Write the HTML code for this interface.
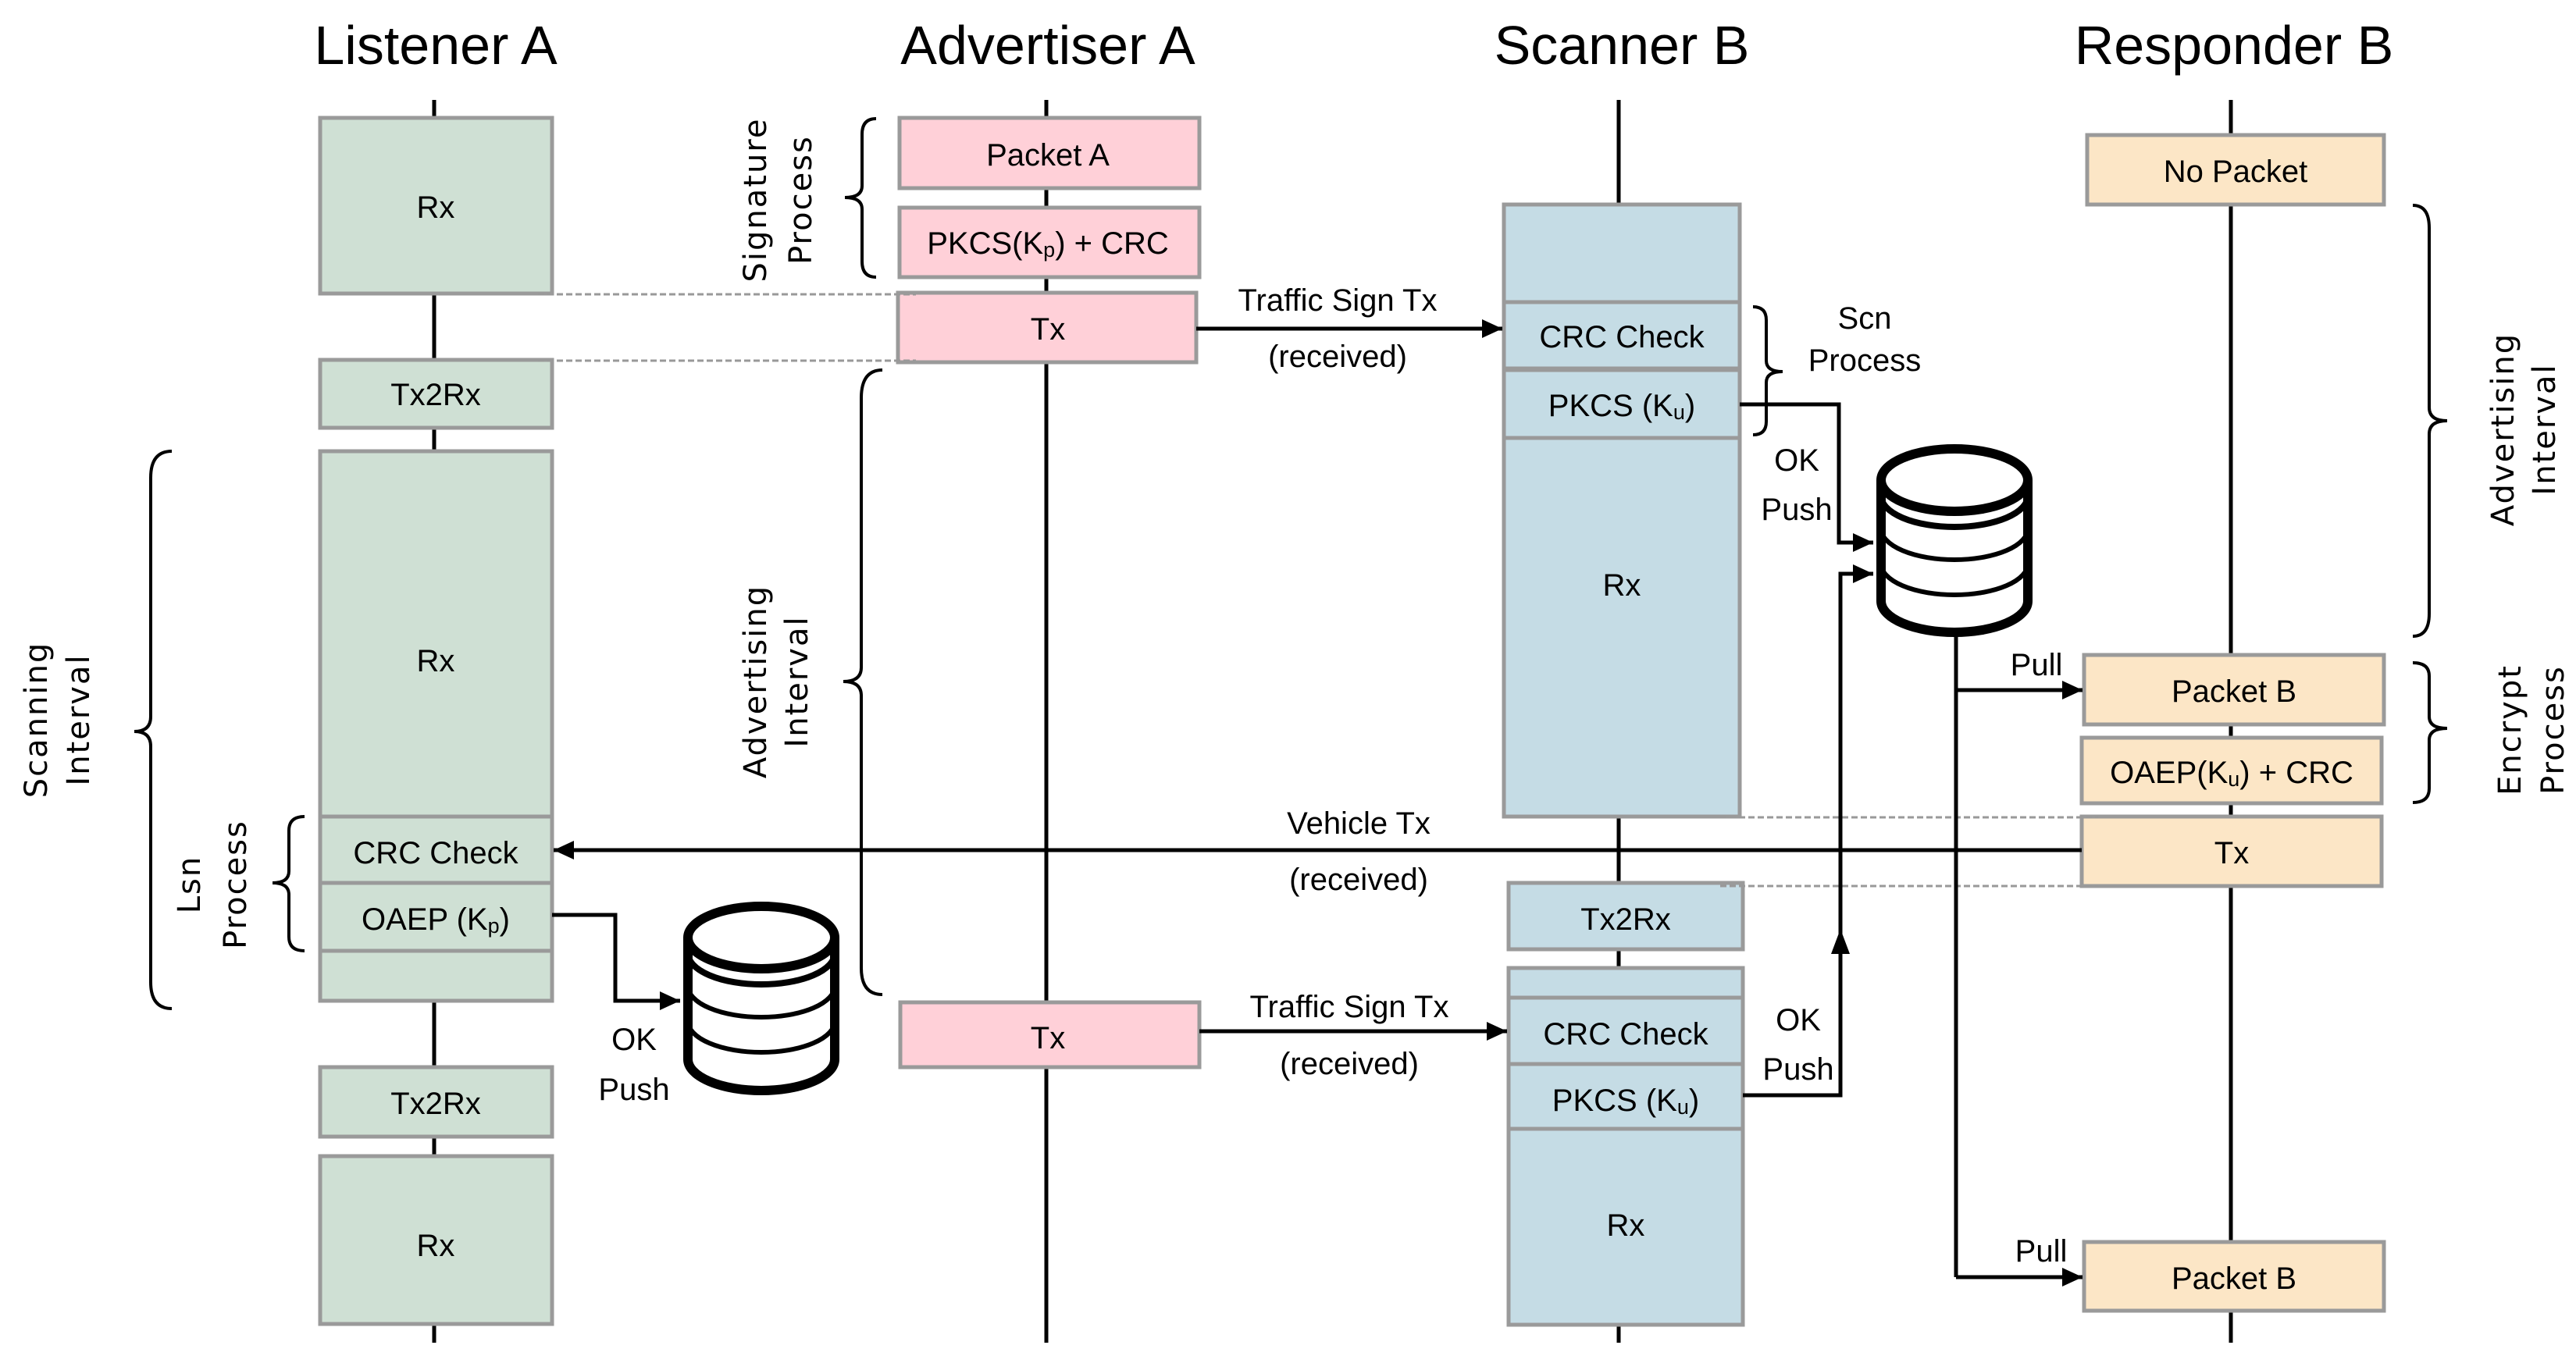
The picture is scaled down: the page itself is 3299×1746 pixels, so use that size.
<!DOCTYPE html>
<html><head><meta charset="utf-8"><style>
html,body{margin:0;padding:0;background:#fff;}
svg{display:block;}
.t{font-family:"Liberation Sans",sans-serif;font-size:40px;fill:#000;text-anchor:middle;dominant-baseline:central;}
.h{font-family:"Liberation Sans",sans-serif;font-size:70px;fill:#000;text-anchor:middle;}
.r{font-family:"DejaVu Sans",sans-serif;font-size:40px;fill:#000;text-anchor:middle;dominant-baseline:central;letter-spacing:2px;}
.g{fill:#cfe0d4;stroke:#9a9a9a;stroke-width:5;}
.p{fill:#ffd0d8;stroke:#9a9a9a;stroke-width:5;}
.b{fill:#c5dce5;stroke:#9a9a9a;stroke-width:5;}
.o{fill:#fce6c6;stroke:#9a9a9a;stroke-width:5;}
.ln{stroke:#000;stroke-width:5;fill:none;}
.br{stroke:#000;stroke-width:4;fill:none;}
.d{stroke:#999;stroke-width:3;stroke-dasharray:8,4;}
.db{stroke:#000;stroke-width:12;fill:#fff;}
</style></head><body>
<svg width="3299" height="1746" viewBox="0 0 3299 1746" xmlns="http://www.w3.org/2000/svg">
<defs>
<marker id="a" markerUnits="userSpaceOnUse" markerWidth="28" markerHeight="28" refX="26" refY="14" orient="auto"><path d="M0,2 L26,14 L0,26 z" fill="#000"/></marker>
</defs>
<text class="h" x="558" y="82">Listener A</text>
<text class="h" x="1342" y="82">Advertiser A</text>
<text class="h" x="2077" y="82">Scanner B</text>
<text class="h" x="2861" y="82">Responder B</text>
<line class="ln" x1="556" y1="128" x2="556" y2="1720"/>
<line class="ln" x1="1340" y1="128" x2="1340" y2="1720"/>
<line class="ln" x1="2073" y1="128" x2="2073" y2="1720"/>
<line class="ln" x1="2857" y1="128" x2="2857" y2="1720"/>

<rect class="g" x="410" y="151" width="297" height="225"/><text class="t" x="558" y="266">Rx</text>
<rect class="g" x="410" y="461" width="297" height="87"/><text class="t" x="558" y="506">Tx2Rx</text>
<rect class="g" x="410" y="578" width="297" height="468"/><text class="t" x="558" y="847">Rx</text>
<rect class="g" x="410" y="1046" width="297" height="85"/><text class="t" x="558" y="1093">CRC Check</text>
<rect class="g" x="410" y="1131" width="297" height="87"/><text class="t" x="558" y="1178">OAEP (K<tspan font-size="27" dy="8">p</tspan><tspan dy="-8">)</tspan></text>
<rect class="g" x="410" y="1218" width="297" height="64"/>
<rect class="g" x="410" y="1367" width="297" height="89"/><text class="t" x="558" y="1414">Tx2Rx</text>
<rect class="g" x="410" y="1481" width="297" height="215"/><text class="t" x="558" y="1596">Rx</text>

<rect class="p" x="1152" y="151" width="384" height="90"/><text class="t" x="1342" y="199">Packet A</text>
<rect class="p" x="1152" y="266" width="384" height="89"/><text class="t" x="1342" y="312">PKCS(K<tspan font-size="27" dy="8">p</tspan><tspan dy="-8">) + CRC</tspan></text>
<rect class="p" x="1150" y="375" width="382" height="89"/><text class="t" x="1342" y="422">Tx</text>
<rect class="p" x="1153" y="1284" width="383" height="83"/><text class="t" x="1342" y="1330">Tx</text>
<line class="d" x1="689" y1="377" x2="1173" y2="377"/>
<line class="d" x1="689" y1="462" x2="1173" y2="462"/>

<rect class="b" x="1926" y="262" width="302" height="125"/>
<rect class="b" x="1926" y="387" width="302" height="85"/><text class="t" x="2077" y="432">CRC Check</text>
<rect class="b" x="1926" y="474" width="302" height="87"/><text class="t" x="2077" y="520">PKCS (K<tspan font-size="27" dy="8">u</tspan><tspan dy="-8">)</tspan></text>
<rect class="b" x="1926" y="561" width="302" height="485"/><text class="t" x="2077" y="750">Rx</text>
<rect class="b" x="1932" y="1131" width="300" height="85"/><text class="t" x="2082" y="1178">Tx2Rx</text>
<rect class="b" x="1932" y="1240" width="300" height="38"/>
<rect class="b" x="1932" y="1278" width="300" height="85"/><text class="t" x="2082" y="1325">CRC Check</text>
<rect class="b" x="1932" y="1363" width="300" height="83"/><text class="t" x="2082" y="1410">PKCS (K<tspan font-size="27" dy="8">u</tspan><tspan dy="-8">)</tspan></text>
<rect class="b" x="1932" y="1446" width="300" height="251"/><text class="t" x="2082" y="1570">Rx</text>

<rect class="o" x="2673" y="173" width="380" height="89"/><text class="t" x="2863" y="220">No Packet</text>
<rect class="o" x="2669" y="839" width="384" height="89"/><text class="t" x="2861" y="886">Packet B</text>
<rect class="o" x="2666" y="945" width="384" height="84"/><text class="t" x="2858" y="990">OAEP(K<tspan font-size="27" dy="8">u</tspan><tspan dy="-8">) + CRC</tspan></text>
<rect class="o" x="2666" y="1046" width="384" height="89"/><text class="t" x="2858" y="1093">Tx</text>
<rect class="o" x="2669" y="1591" width="384" height="88"/><text class="t" x="2861" y="1638">Packet B</text>
<line class="d" x1="2203" y1="1047" x2="2687" y2="1047"/>
<line class="d" x1="2203" y1="1135" x2="2687" y2="1135"/>

<line class="ln" x1="1532" y1="421" x2="1924" y2="421" marker-end="url(#a)"/>
<text class="t" x="1713" y="385">Traffic Sign Tx</text>
<text class="t" x="1713" y="457">(received)</text>
<line class="ln" x1="1536" y1="1321" x2="1930" y2="1321" marker-end="url(#a)"/>
<text class="t" x="1728" y="1290">Traffic Sign Tx</text>
<text class="t" x="1728" y="1363">(received)</text>
<line class="ln" x1="2666" y1="1089" x2="709" y2="1089" marker-end="url(#a)"/>
<text class="t" x="1740" y="1055">Vehicle Tx</text>
<text class="t" x="1740" y="1127">(received)</text>

<polyline class="ln" points="2228,518 2355,518 2355,695 2399,695" marker-end="url(#a)"/>
<polyline class="ln" points="2232,1403 2357,1403 2357,735 2399,735" marker-end="url(#a)"/>
<path d="M2357,1190 L2345,1222 L2369,1222 z" fill="#000"/>
<text class="t" x="2301" y="590">OK</text><text class="t" x="2301" y="653">Push</text>
<text class="t" x="2303" y="1307">OK</text><text class="t" x="2303" y="1370">Push</text>
<line class="ln" x1="2505" y1="812" x2="2505" y2="1636"/>
<line class="ln" x1="2505" y1="884" x2="2667" y2="884" marker-end="url(#a)"/>
<line class="ln" x1="2505" y1="1636" x2="2667" y2="1636" marker-end="url(#a)"/>
<text class="t" x="2608" y="852">Pull</text>
<text class="t" x="2614" y="1603">Pull</text>

<polyline class="ln" points="707,1172 788,1172 788,1282 871,1282" marker-end="url(#a)"/>
<text class="t" x="812" y="1332">OK</text><text class="t" x="812" y="1396">Push</text>

<g class="db">
<path d="M2409,615 L2409,770 A94,40 0 0 0 2597,770 L2597,615"/>
<ellipse cx="2503" cy="615" rx="94" ry="40"/>
<path d="M2409,635 A94,40 0 0 0 2597,635" fill="none" stroke-width="8"/>
<path d="M2409,677 A94,40 0 0 0 2597,677" fill="none" stroke-width="6"/>
<path d="M2409,722 A94,40 0 0 0 2597,722" fill="none" stroke-width="6"/>
</g>
<g class="db">
<path d="M881,1201 L881,1357 A94,40 0 0 0 1069,1357 L1069,1201"/>
<ellipse cx="975" cy="1201" rx="94" ry="40"/>
<path d="M881,1221 A94,40 0 0 0 1069,1221" fill="none" stroke-width="8"/>
<path d="M881,1263 A94,40 0 0 0 1069,1263" fill="none" stroke-width="6"/>
<path d="M881,1308 A94,40 0 0 0 1069,1308" fill="none" stroke-width="6"/>
</g>

<path class="br" d="M1122,152 Q1104,152 1104,172 L1104,238 Q1104,253 1082,253 Q1104,253 1104,268 L1104,335 Q1104,355 1122,355"/>
<text class="r" transform="translate(968,256) rotate(-90)">Signature</text>
<text class="r" transform="translate(1026,256) rotate(-90)">Process</text>
<path class="br" d="M1130,474 Q1103,474 1103,510 L1103,855 Q1103,873 1080,873 Q1103,873 1103,891 L1103,1240 Q1103,1274 1130,1274"/>
<text class="r" transform="translate(968,873) rotate(-90)">Advertising</text>
<text class="r" transform="translate(1021,873) rotate(-90)">Interval</text>
<path class="br" d="M220,578 Q193,578 193,612 L193,918 Q193,937 172,937 Q193,937 193,956 L193,1258 Q193,1292 220,1292"/>
<text class="r" transform="translate(47,922) rotate(-90)">Scanning</text>
<text class="r" transform="translate(101,922) rotate(-90)">Interval</text>
<path class="br" d="M390,1046 Q370,1046 370,1064 L370,1116 Q370,1131 349,1131 Q370,1131 370,1146 L370,1200 Q370,1218 390,1218"/>
<text class="r" transform="translate(243,1133) rotate(-90)">Lsn</text>
<text class="r" transform="translate(302,1133) rotate(-90)">Process</text>
<path class="br" d="M2245,393 Q2262,393 2262,410 L2262,462 Q2262,476 2283,476 Q2262,476 2262,490 L2262,540 Q2262,557 2245,557"/>
<text class="t" x="2388" y="408">Scn</text>
<text class="t" x="2388" y="462">Process</text>
<path class="br" d="M3090,263 Q3111,263 3111,292 L3111,522 Q3111,539 3134,539 Q3111,539 3111,556 L3111,786 Q3111,815 3090,815"/>
<text class="r" transform="translate(3206,550) rotate(-90)">Advertising</text>
<text class="r" transform="translate(3259,550) rotate(-90)">Interval</text>
<path class="br" d="M3090,849 Q3111,849 3111,866 L3111,918 Q3111,933 3134,933 Q3111,933 3111,948 L3111,1010 Q3111,1028 3090,1028"/>
<text class="r" transform="translate(3215,935) rotate(-90)">Encrypt</text>
<text class="r" transform="translate(3270,935) rotate(-90)">Process</text>
</svg>
</body></html>
